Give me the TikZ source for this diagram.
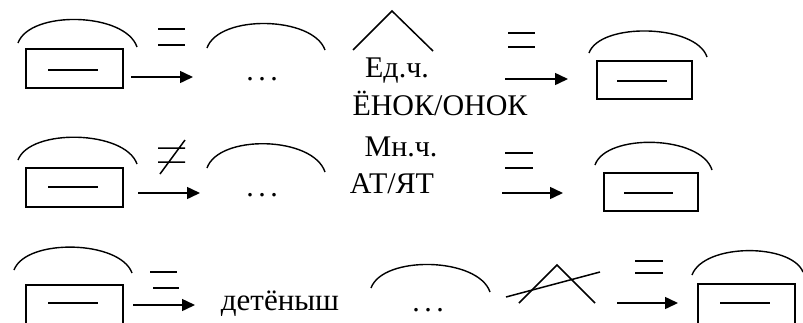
\documentclass[tikz,border=0pt]{standalone}
\usepackage{fontspec}
\setmainfont{Liberation Serif}
\usetikzlibrary{arrows.meta}
\begin{document}
\begin{tikzpicture}[x=1pt,y=-1pt,
  stroke/.style={line width=1.5pt,black},
  wordbox/.style={stroke},
  arcline/.style={line width=1.4pt,black},
  pointer/.style={line width=1.5pt,-{Triangle[length=13pt,width=12pt]}},
  label/.style={font=\fontsize{30}{30}\selectfont,anchor=base,inner sep=0pt},
  ellip/.style={font=\fontsize{30}{30}\selectfont,anchor=base,inner sep=0pt}]
\useasboundingbox (0,0) rectangle (803,322);
\newcommand{\spdots}{.\kern4.5pt.\kern4.5pt.}

% ---------- row 1 ----------
\draw[arcline] (18,43) .. controls (30,10) and (125,12) .. (137,47);
\draw[wordbox] (26,49) rectangle (123,88);
\draw[stroke] (48,70) -- (98,70);
\draw[stroke] (158,29) -- (185,29) (158,45) -- (185,45);
\coordinate (a1s) at (131,77); \coordinate (a1e) at (193,77);
\draw[pointer] (a1s) -- (a1e);
\draw[arcline] (207,48) .. controls (219,14) and (313,16) .. (325,50);
\node[ellip] (d1) at (262,80) {\spdots};
\draw[stroke] (353,50) -- (392,11) -- (433,51);
\node[label] (sg) at (397,77) {Ед.ч.};
\node[label] (sgend) at (440,115) {ЁНОК/ОНОК};
\draw[stroke] (508,33) -- (535,33) (508,47) -- (535,47);
\coordinate (a2s) at (505,79); \coordinate (a2e) at (568,79);
\draw[pointer] (a2s) -- (a2e);
\draw[arcline] (589,53) .. controls (600,22) and (696,24) .. (707,57);
\draw[wordbox] (597,61) rectangle (692,99);
\draw[stroke] (617,81) -- (667,81);

% ---------- row 2 ----------
\draw[arcline] (18,160) .. controls (30,128) and (125,130) .. (137,164);
\draw[wordbox] (26,168) rectangle (123,207);
\draw[stroke] (48,187) -- (98,187);
\draw[stroke] (158,148) -- (185,148) (158,162) -- (185,162) (160,174) -- (185,140);
\coordinate (b1s) at (138,193); \coordinate (b1e) at (200,193);
\draw[pointer] (b1s) -- (b1e);
\draw[arcline] (207,168) .. controls (219,134) and (313,136) .. (325,172);
\node[ellip] (d2) at (262,196) {\spdots};
\node[label] (pl) at (401,156) {Мн.ч.};
\node[label] (plend) at (392,193) {АТ/ЯТ};
\draw[stroke] (505,153) -- (533,153) (505,168) -- (533,168);
\coordinate (b2s) at (502,193); \coordinate (b2e) at (563,193);
\draw[pointer] (b2s) -- (b2e);
\draw[arcline] (595,165) .. controls (606,133) and (701,135) .. (712,170);
\draw[wordbox] (604,173) rectangle (698,211);
\draw[stroke] (624,193) -- (673,193);

% ---------- row 3 ----------
\draw[arcline] (14,270) .. controls (26,238) and (120,240) .. (132,273);
\draw[wordbox] (26,330) -- (26,285) -- (123,285) -- (123,330);
\draw[stroke] (48,303) -- (98,303);
\draw[stroke] (150,272) -- (177,272) (153,288) -- (179,288);
\coordinate (c1s) at (133,305); \coordinate (c1e) at (195,305);
\draw[pointer] (c1s) -- (c1e);
\node[label,font=\fontsize{31}{31}\selectfont] (young) at (280,310) {детёныш};
\draw[arcline] (371,288) .. controls (383,255) and (478,257) .. (490,292);
\node[ellip] (d3) at (428,311) {\spdots};
\draw[stroke] (519,303) -- (557,265) -- (595,303);
\draw[stroke] (506,297) -- (600,272);
\draw[stroke] (635,261) -- (663,261) (635,273) -- (663,273);
\coordinate (c2s) at (617,303); \coordinate (c2e) at (678,303);
\draw[pointer] (c2s) -- (c2e);
\draw[arcline] (692,275) .. controls (704,243) and (791,243) .. (803,272);
\draw[wordbox] (698,330) -- (698,284) -- (795,284) -- (795,330);
\draw[stroke] (720,303) -- (770,303);
\end{tikzpicture}
\end{document}
